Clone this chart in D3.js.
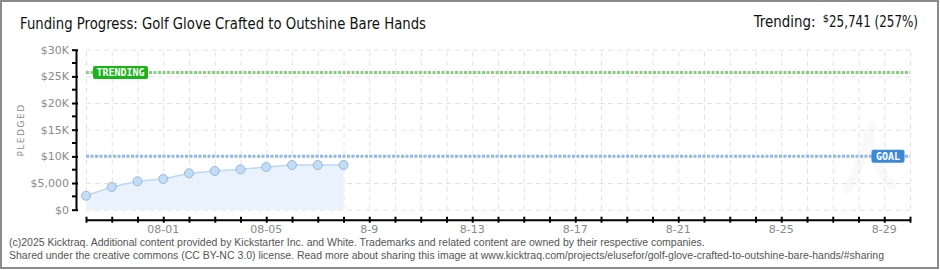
<!DOCTYPE html>
<html><head>
<meta charset="utf-8">
<script src="https://d3js.org/d3.v7.min.js"></script>
<style>
  body { margin:0; background:#fff; }
  svg text { font-family: "DejaVu Sans", "Liberation Sans", sans-serif; }
  .grid line { stroke:#e2e2e2; stroke-dasharray:5,4; }
  .grid .domain { stroke:none; }
  .axis text { fill:#8a8a8a; font-size:11px; }
  .axis line, .axis path { stroke:#000; stroke-width:2px; }
</style>
</head>
<body>
<svg id="chart" width="940" height="270"></svg>
<script>
  // ---- data
  const dates = ["2025-07-29","2025-07-30","2025-07-31","2025-08-01","2025-08-02","2025-08-03",
                 "2025-08-04","2025-08-05","2025-08-06","2025-08-07","2025-08-08"];
  const pledged = [2630, 4260, 5320, 5760, 6820, 7260, 7570, 8000, 8380, 8380, 8380];
  const goal = 10000;
  const trending = 25741;
  const yTicks = [0, 5000, 10000, 15000, 20000, 25000, 30000];
  const yTickLabels = ["$0", "$5,000", "$10K", "$15K", "$20K", "$25K", "$30K"];
  const xLabelDates = ["2025-08-01","2025-08-05","2025-08-09","2025-08-13","2025-08-17","2025-08-21","2025-08-25","2025-08-29"];
  const xLabels = ["08-01","08-05","8-9","8-13","8-17","8-21","8-25","8-29"];

  const parse = d3.timeParse("%Y-%m-%d");
  const svg = d3.select("svg#chart");
  const margins = {top: 49.7, left: 86, right: 30, bottom: 60.3};
  const chartWidth = 940 - margins.left - margins.right;
  const chartHeight = 270 - margins.top - margins.bottom;

  // outer frame
  svg.append("rect").attr("x", 1).attr("y", 1).attr("width", 937).attr("height", 267)
     .attr("fill", "none").attr("stroke", "#8c8c8c").attr("stroke-width", 2);

  const xScale = d3.scaleTime().domain([parse("2025-07-29"), parse("2025-08-30")]).range([0, chartWidth]);
  const yScale = d3.scaleLinear().domain([0, 30000]).range([chartHeight, 0]);

  const plot = svg.append("g").attr("transform", "translate(" + margins.left + "," + margins.top + ")");

  // faint watermark (under the grid)
  plot.append("path")
      .attr("d", "M" + (chartWidth - 62) + "," + (chartHeight - 20) + " q16,-32 24,-64 M" + (chartWidth - 42) + "," + (chartHeight - 74) + " q8,32 24,50")
      .attr("fill", "none").attr("stroke", "#f9f9f9").attr("stroke-width", 9).attr("stroke-linecap", "round");

  // gridlines
  plot.append("g").attr("class", "grid")
      .call(d3.axisLeft(yScale).tickValues(yTicks).tickFormat("").tickSize(-chartWidth));
  plot.append("g").attr("class", "grid")
      .attr("transform", "translate(0," + chartHeight + ")")
      .call(d3.axisBottom(xScale).ticks(d3.timeDay.every(1)).tickFormat("").tickSize(-chartHeight));

  // area + line
  const pts = dates.map((d, i) => ({date: parse(d), v: pledged[i]}));
  plot.append("path").datum(pts)
      .attr("d", d3.area().x(d => xScale(d.date)).y0(chartHeight).y1(d => yScale(d.v)))
      .attr("fill", "#eaf3fd");
  plot.append("path").datum(pts)
      .attr("d", d3.line().x(d => xScale(d.date)).y(d => yScale(d.v)))
      .attr("fill", "none").attr("stroke", "#bcd8f5").attr("stroke-width", 1.5);

  // goal and trending lines
  function refLine(val, color, label, boxColor, lx, lw) {
    const y = yScale(val);
    plot.append("line").attr("x1", 0).attr("x2", chartWidth).attr("y1", y).attr("y2", y)
        .attr("stroke", color).attr("stroke-width", 3).attr("stroke-dasharray", "3,1.5");
    plot.append("rect").attr("x", lx).attr("y", y - 6.5).attr("width", lw).attr("height", 13)
        .attr("rx", 2).attr("fill", boxColor);
    plot.append("text").attr("x", lx + lw / 2).attr("y", y + 4).attr("text-anchor", "middle")
        .attr("fill", "#fff").style("font-size", "10px").style("font-family", "DejaVu Sans Mono, monospace")
        .style("font-weight", "bold").text(label);
  }
  refLine(goal, "#93b8e6", "GOAL", "#3b88d8", xScale(parse("2025-08-28")) + 13, 33);
  refLine(trending, "#86d17b", "TRENDING", "#18b418", 7, 55);

  // points
  plot.selectAll("circle.pt").data(pts).enter().append("circle")
      .attr("class", "pt")
      .attr("cx", d => xScale(d.date)).attr("cy", d => yScale(d.v)).attr("r", 4.5)
      .attr("fill", "#c4ddf7").attr("stroke", "#97b6db").attr("stroke-width", 1);

  // y axis, shifted 10px left
  const yAxis = svg.append("g").attr("class", "axis")
      .attr("transform", "translate(" + (margins.left - 10) + "," + margins.top + ")")
      .call(d3.axisLeft(yScale).tickValues(yTicks).tickSize(4).tickSizeOuter(0)
            .tickFormat((d, i) => yTickLabels[i]));
  yAxis.selectAll(".tick line").attr("x2", -4).attr("x1", 2);
  yAxis.selectAll(".tick text").attr("x", -7);
  // red minor ticks
  yAxis.selectAll("line.minor").data(yTicks.slice(0, -1).map(d => d + 2500)).enter()
      .append("line").attr("class", "minor")
      .attr("x1", -4).attr("x2", 0).attr("y1", d => yScale(d)).attr("y2", d => yScale(d))
      .attr("stroke", "#e8141c").attr("stroke-width", 1.5);

  // x axis, shifted 10px down
  const xAxis = svg.append("g").attr("class", "axis")
      .attr("transform", "translate(" + margins.left + "," + (margins.top + chartHeight + 10) + ")")
      .call(d3.axisBottom(xScale).ticks(d3.timeDay.every(1)).tickSize(3).tickSizeOuter(0).tickFormat(""));
  xAxis.selectAll(".tick line").attr("y1", -3);
  xAxis.selectAll("text.lbl").data(xLabelDates).enter().append("text")
      .attr("class", "lbl").attr("x", d => xScale(parse(d))).attr("y", 13)
      .attr("text-anchor", "middle").text((d, i) => xLabels[i]);

  // y title
  svg.append("text").attr("transform", "translate(24,130) rotate(-90)")
      .attr("text-anchor", "middle").attr("fill", "#8a8a8a").style("font-size", "9px")
      .style("letter-spacing", "1.5px").text("PLEDGED");

  // title
  svg.append("text").attr("x", 20).attr("y", 29).attr("fill", "#111")
      .attr("textLength", 406).attr("lengthAdjust", "spacingAndGlyphs")
      .style("font-size", "15px").text("Funding Progress: Golf Glove Crafted to Outshine Bare Hands");

  const tr = svg.append("text").attr("x", 918).attr("y", 27).attr("text-anchor", "end")
      .attr("fill", "#111").style("font-size", "15px");
  tr.append("tspan").attr("textLength", 62).attr("lengthAdjust", "spacingAndGlyphs").text("Trending:");
  tr.append("tspan").style("font-size", "10px").attr("dx", 7).attr("dy", -5).text("$");
  tr.append("tspan").attr("dy", 5).attr("textLength", 89).attr("lengthAdjust", "spacingAndGlyphs")
    .text(d3.format(",")(trending) + " (" + Math.round(trending / goal * 100) + "%)");

  // footer
  const foot = ["(c)2025 Kicktraq. Additional content provided by Kickstarter Inc. and White. Trademarks and related content are owned by their respective companies.",
                "Shared under the creative commons (CC BY-NC 3.0) license. Read more about sharing this image at www.kicktraq.com/projects/elusefor/golf-glove-crafted-to-outshine-bare-hands/#sharing"];
  foot.forEach((t, i) => {
    svg.append("text").attr("x", 9).attr("y", 246 + i * 13).attr("fill", "#555")
       .style("font-family", "'Liberation Sans Narrow', 'Liberation Sans', sans-serif")
       .style("font-size", "10.5px").text(t);
  });
</script>
</body></html>
